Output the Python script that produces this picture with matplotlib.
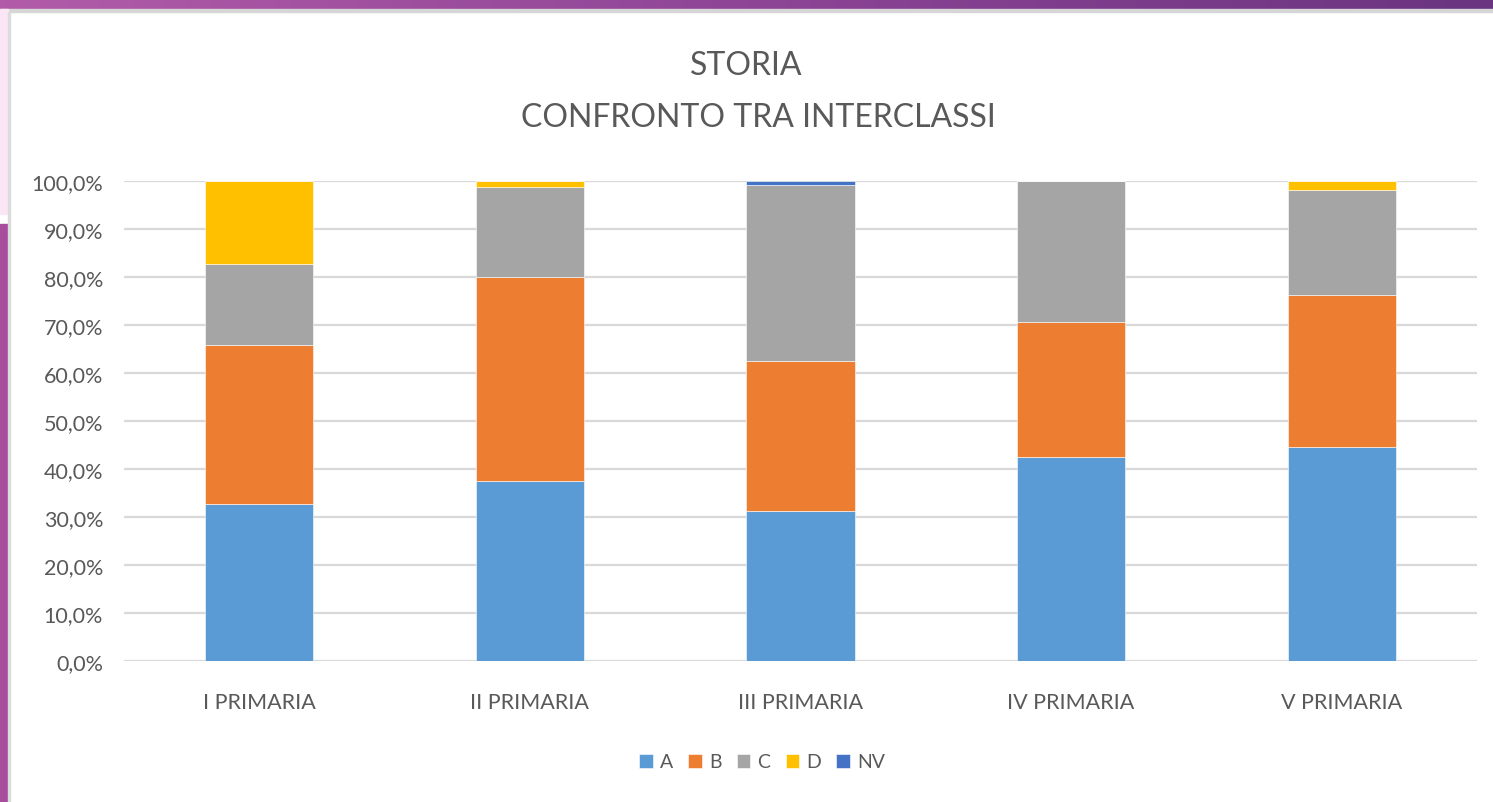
import numpy as np
import matplotlib
matplotlib.use("Agg")
import matplotlib.pyplot as plt
from matplotlib.patches import Rectangle
from matplotlib.ticker import FuncFormatter

# data (percent of pupils per grade)
classi = ['I PRIMARIA', 'II PRIMARIA', 'III PRIMARIA', 'IV PRIMARIA', 'V PRIMARIA']
livello_a = [32.8, 37.4, 31.2, 42.4, 44.6]
livello_b = [33.1, 42.5, 31.3, 28.2, 31.6]
livello_c = [16.9, 18.9, 36.6, 29.4, 22.0]
livello_d = [17.2, 1.2, 0.0, 0.0, 1.8]
livello_nv = [0.0, 0.0, 0.9, 0.0, 0.0]

serie = ['A', 'B', 'C', 'D', 'NV']
colori = ['#5B9BD5', '#ED7D31', '#A5A5A5', '#FFC000', '#4472C4']

plt.rcParams['font.family'] = ['Lato', 'DejaVu Sans']
testo = '#595959'

W, H = 1493, 803
fig = plt.figure(figsize=(W / 100, H / 100), dpi=100)
fig.patch.set_facecolor('white')

# slide decoration: purple band on top, strip on the left
band = fig.add_axes([0, 1 - 10 / H, 1, 10 / H])
grad = np.linspace(0, 1, 256).reshape(1, -1)
band.imshow(grad, aspect='auto', cmap=matplotlib.colors.LinearSegmentedColormap.from_list(
    'viola', ['#B25CA9', '#8E4596', '#6A3480']), extent=[0, 1, 0, 1])
band.axis('off')
fig.patches.append(Rectangle((0, 1 - 13 / H), 1, 3 / H, transform=fig.transFigure,
                             color='#d6d6d6', zorder=0))
fig.patches.append(Rectangle((0, 0), 8 / W, 1 - 225 / H, transform=fig.transFigure,
                             color='#A64D9E', zorder=0))
fig.patches.append(Rectangle((0, 1 - 215 / H), 8 / W, 205 / H, transform=fig.transFigure,
                             color='#FBE6F6', zorder=0))
fig.patches.append(Rectangle((8 / W, 0), 2 / W, 1 - 13 / H, transform=fig.transFigure,
                             color='#dcdcdc', zorder=0))

ax = fig.add_axes([124 / W, 1 - 662 / H, (1477 - 124) / W, 480 / H])
x = np.arange(len(classi))
valori = [livello_a, livello_b, livello_c, livello_d, livello_nv]
base = np.zeros(len(classi))
for nome, vals, col in zip(serie, valori, colori):
    vals = np.array(vals)
    ax.bar(x, vals, 0.4, bottom=base, color=col, label=nome, zorder=3,
           edgecolor='white', linewidth=0.4)
    base += vals

ax.set_xlim(-0.5, len(classi) - 0.5)
ax.set_ylim(0, 100)
ax.set_yticks(np.arange(0, 101, 10))
ax.yaxis.set_major_formatter(FuncFormatter(lambda v, p: f'{v:.1f}%'.replace('.', ',')))
ax.set_xticks(x)
ax.set_xticklabels(classi)
ax.tick_params(axis='both', length=0, labelsize=15.5, colors=testo)
ax.tick_params(axis='y', pad=15)
ax.tick_params(axis='x', pad=22)
ax.grid(axis='y', color='#d9d9d9', linewidth=1.6, zorder=0)
for s in ax.spines.values():
    s.set_visible(False)

fig.text(0.5, 1 - 66 / H, 'STORIA', ha='center', va='center', fontsize=23, color=testo)
fig.text(758 / W, 1 - 118 / H, 'CONFRONTO TRA INTERCLASSI',
         ha='center', va='center', fontsize=23, color=testo)

fig.legend(loc='center', bbox_to_anchor=(762 / W, 1 - 763 / H), ncol=5, frameon=False,
           fontsize=14, handlelength=0.7, handleheight=0.7, handletextpad=0.35,
           columnspacing=0.8, labelcolor=testo)

fig.savefig('out.png', dpi=100)
